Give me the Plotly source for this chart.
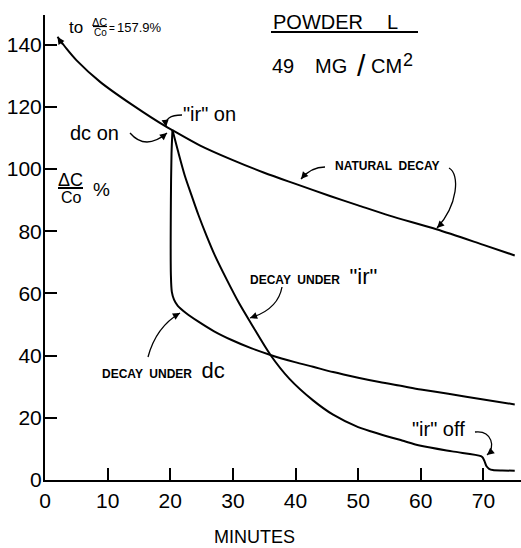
import plotly.graph_objects as go

# ---------------- data ----------------
natural_x = [2, 3.5, 5, 8.8, 14, 19.4, 20.4, 24.7, 29.8, 35, 40, 45.5, 50, 55, 62.5, 70, 75]
natural_y = [142.5, 138.5, 135, 128, 120.5, 113.5, 112.4, 107.6, 103, 98.8, 95.2, 91.3, 88.3, 85, 80.6, 75.6, 72.2]

dc_x = [20.35, 20.2, 20.1, 20.1, 20.25, 20.6, 21.2, 22.5, 24.5, 27, 29.8, 33, 36, 39.9, 42.8, 46,
        50, 53.4, 57, 60, 64.4, 70, 75]
dc_y = [112.5, 105, 90, 66, 60.5, 58, 56, 53.7, 50.9, 47.8, 45, 42.3, 40.2, 37.9, 36.4, 34.7,
        32.9, 31.5, 30.2, 29.1, 27.7, 25.9, 24.3]

ir_x = [20.35, 21.2, 22.3, 23.4, 24.5, 25.8, 27.1, 29, 31, 33, 36, 39, 42.8, 46, 50, 53.4, 57,
        60, 65, 69.6, 69.9, 70.2, 70.5, 70.9, 71.5, 73, 75]
ir_y = [112.5, 106, 98, 91.5, 85.2, 78.5, 72.3, 64.5, 56.8, 50, 40.2, 32.6, 25.6, 21, 17,
        14.8, 12.7, 11, 9.2, 7.7, 7.2, 5.9, 4.4, 3.6, 3.2, 3.05, 3.0]

minute_ticks = [0, 10, 20, 30, 40, 50, 60, 70]
percent_ticks = [0, 20, 40, 60, 80, 100, 120, 140]

X_RANGE = [0, 76]
Y_RANGE = [0, 149.5]

FONT = "Liberation Sans"
W, H = 521, 548
ML, MR, MT, MB = 45, 0, 15, 68
PW, PH = W - ML - MR, H - MT - MB


def xd(px):
    return X_RANGE[0] + (px - ML) / PW * (X_RANGE[1] - X_RANGE[0])


def yd(py):
    return Y_RANGE[0] + (MT + PH - py) / PH * (Y_RANGE[1] - Y_RANGE[0])


fig = go.Figure()
for xs, ys in [(natural_x, natural_y), (dc_x, dc_y), (ir_x, ir_y)]:
    fig.add_trace(go.Scatter(x=xs, y=ys, mode="lines",
                             line=dict(color="black", width=2, shape="spline", smoothing=0.8),
                             hoverinfo="skip", showlegend=False))

annotations = []
shapes = []


def txt(px, py, s, size=20, anchor="center", bold=False):
    if bold:
        s = "<b>" + s + "</b>"
    annotations.append(dict(x=xd(px), y=yd(py), xref="x", yref="y", text=s, showarrow=False,
                            xanchor=anchor, yanchor="middle",
                            font=dict(family=FONT, size=size, color="black")))


def hline(px0, px1, py, width=1.5):
    shapes.append(dict(type="line", xref="x", yref="y", x0=xd(px0), x1=xd(px1), y0=yd(py), y1=yd(py),
                       line=dict(color="black", width=width)))


def leader(points, kind="Q"):
    pts = ["%f,%f" % (xd(a), yd(b)) for a, b in points]
    path = "M " + pts[0] + " " + kind + " " + " ".join(pts[1:])
    shapes.append(dict(type="path", xref="x", yref="y", path=path,
                       line=dict(color="black", width=1.3)))


def head(px, py, ax, ay):
    annotations.append(dict(x=xd(px), y=yd(py), xref="x", yref="y", text="", showarrow=True,
                            ax=ax, ay=ay, arrowhead=2, arrowsize=1.1, arrowwidth=1.3,
                            arrowcolor="black"))


# top-left note
txt(75.5, 27, "to", 17)
txt(99.5, 21.5, "ΔC", 11)
hline(93, 107, 26.5, 1.2)
txt(100.5, 32, "Co", 10)
txt(111.5, 28, "=", 10)
txt(115, 27.5, "157.9%", 13, anchor="left")
head(57.5, 37, 6, 9)

# title block
txt(317.5, 22, "POWDER", 20)
txt(392.5, 22, "L", 20)
hline(271, 418, 32, 2)
txt(283, 66, "49", 20)
txt(331, 66, "MG", 20)
txt(361, 65, "/", 30)
txt(386, 66, "CM", 20)
txt(407.5, 60, "2", 18)

# y label
txt(70, 180, "ΔC", 18)
hline(58, 83, 188, 2)
txt(71.5, 197, "Co", 16)
txt(101.5, 189, "%", 19)

# on labels
txt(209, 114, "\"ir\" on", 20)
leader([(182, 115), (164, 115), (166, 127)])
head(166, 127, -1, -8)
txt(94.5, 133, "dc on", 20)
leader([(130, 133), (145.5, 151), (167, 133)])
head(167, 133, -6, 5)

# natural decay
txt(387, 166, "NATURAL  DECAY", 12, bold=True)
leader([(325, 167), (311, 167), (301, 179)])
head(301, 179, 6, -7)
leader([(449, 168), (460, 174), (458, 205), (437, 228)], kind="C")
head(437, 228, 6, -6)

# decay under ir
txt(248, 276, "<b>DECAY  UNDER </b><span style=\"font-size:22px\"> \"ir\"</span>", 12, anchor="left")
leader([(282, 287), (278, 309.5), (250, 318)])
head(250, 318, 8, -3)

# decay under dc
txt(100, 370, "<b>DECAY  UNDER </b><span style=\"font-size:22px\"> dc</span>", 12, anchor="left")
leader([(148, 357), (156, 327), (180, 313)])
head(180, 313, -7, 4)

# ir off
txt(438.5, 429, "\"ir\" off", 20)
leader([(475, 432), (492, 430), (496, 448), (487, 455)], kind="C")
head(487, 455, 6, -5)

# x title (outside the axes, so placed in paper coordinates)
annotations.append(dict(x=(254 - ML) / PW, y=(MT + PH - 536.5) / PH, xref="paper", yref="paper",
                        text="MINUTES", showarrow=False, xanchor="center", yanchor="middle",
                        font=dict(family=FONT, size=18, color="black")))

axis_common = dict(showline=True, linecolor="black", linewidth=2, ticks="inside", ticklen=12,
                   tickwidth=1.5, tickcolor="black", showgrid=False, zeroline=False,
                   tickfont=dict(family=FONT, size=21, color="black"))

fig.update_layout(
    width=W, height=H,
    margin=dict(l=ML, r=MR, t=MT, b=MB, pad=0),
    paper_bgcolor="white", plot_bgcolor="white",
    xaxis=dict(range=X_RANGE, tickmode="array", tickvals=minute_ticks,
               ticktext=[str(v) for v in minute_ticks], ticklabelstandoff=1, **axis_common),
    yaxis=dict(range=Y_RANGE, tickmode="array", tickvals=percent_ticks,
               ticktext=[str(v) for v in percent_ticks], ticklabelstandoff=-3, **axis_common),
    annotations=annotations,
    shapes=shapes,
    showlegend=False,
)

fig.write_html("out.html")
